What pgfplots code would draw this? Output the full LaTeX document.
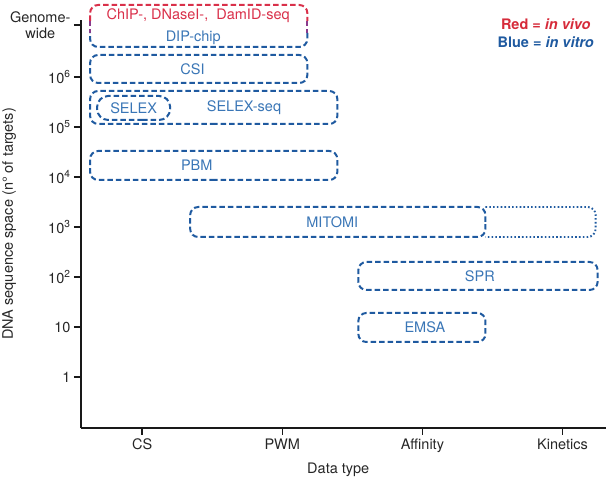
\documentclass[border=0pt]{standalone}
\usepackage{fontspec}
\setmainfont{TeX Gyre Heros}
\usepackage{pgfplots}
\pgfplotsset{compat=1.18}
\definecolor{boxblue}{HTML}{1F5AA0}
\definecolor{txtblue}{HTML}{3A76B6}
\definecolor{boxred}{HTML}{D9304A}
\definecolor{boxpurple}{HTML}{8A3A8C}
\definecolor{legred}{HTML}{D62B3A}
\newcommand\fs{\fontsize{14.5}{16.5}\selectfont}
\tikzset{
 dbox/.style={boxblue, line width=2pt, dash pattern=on 5.5pt off 3pt, rounded corners=8pt},
 lab/.style={txtblue, font=\fs},
}
\begin{document}
\begin{tikzpicture}
\useasboundingbox (-81pt,-58pt) rectangle (527pt,428pt);
\begin{axis}[
 at={(0pt,0pt)}, anchor=south west,
 scale only axis, width=525pt, height=408pt,
 xmin=-0.436, xmax=3.31, ymin=-1.02, ymax=7.14,
 clip=false, no markers,
 axis x line*=bottom, axis y line*=left,
 axis line style={line width=1.5pt, black!90},
 xtick={0,1,2,3}, xticklabels={CS,PWM,Affinity,Kinetics},
 ytick={0,1,2,3,4,5,6,7.04},
 yticklabels={1,10,10\textsuperscript{2},10\textsuperscript{3},10\textsuperscript{4},10\textsuperscript{5},10\textsuperscript{6},{Genome-\\wide}},
 yticklabel style={align=center},
 tick align=outside, major tick length=7pt,
 tick style={line width=1.5pt, black!90},
 tick label style={font=\fs, text=black!85},
 xlabel={Data type}, ylabel={DNA sequence space (n° of targets)},
 xlabel style={at={(axis description cs:0.49,-0.103)}, anchor=center, font=\fs, text=black!85},
 ylabel style={at={(axis description cs:-0.137,0.5)}, anchor=center, font=\fs, text=black!85},
]
% ChIP / DIP-chip box: red top, purple sides, blue bottom
\addplot[dbox, boxred] coordinates {(-0.371,7.12) (-0.371,7.44) (1.179,7.44) (1.179,7.12)};
\addplot[dbox, boxpurple, rounded corners=0pt] coordinates {(-0.371,7.12) (-0.371,6.88)};
\addplot[dbox, boxpurple, rounded corners=0pt] coordinates {(1.179,7.12) (1.179,6.88)};
\addplot[dbox] coordinates {(1.179,6.88) (1.179,6.6) (-0.371,6.6) (-0.371,6.88)};
% CSI
\addplot[dbox] coordinates {(0.4,5.88) (1.179,5.88) (1.179,6.44) (-0.371,6.44) (-0.371,5.88) (0.4,5.88)};
% SELEX-seq
\addplot[dbox] coordinates {(0.5,5.06) (1.393,5.06) (1.393,5.72) (-0.371,5.72) (-0.371,5.06) (0.5,5.06)};
% SELEX
\addplot[dbox, rounded corners=11pt] coordinates {(0,5.14) (0.2,5.14) (0.2,5.62) (-0.321,5.62) (-0.321,5.14) (0,5.14)};
% PBM
\addplot[dbox] coordinates {(0.5,3.94) (1.393,3.94) (1.393,4.52) (-0.371,4.52) (-0.371,3.94) (0.5,3.94)};
% MITOMI dashed
\addplot[dbox] coordinates {(2.45,3.1) (2.45,3.4) (0.343,3.4) (0.343,2.8) (2.45,2.8) (2.45,3.1)};
% MITOMI dotted extension
\addplot[boxblue, line width=1.9pt, dash pattern=on 1.6pt off 2.2pt, rounded corners=8pt] coordinates {(2.45,3.4) (3.236,3.4) (3.236,2.8) (2.45,2.8)};
% SPR
\addplot[dbox] coordinates {(2.4,1.74) (3.25,1.74) (3.25,2.3) (1.543,2.3) (1.543,1.74) (2.4,1.74)};
% EMSA
\addplot[dbox] coordinates {(2.0,0.7) (2.45,0.7) (2.45,1.28) (1.543,1.28) (1.543,0.7) (2.0,0.7)};

\node[boxred, font=\fs] at (axis cs:0.40,7.22) {ChIP-, DNaseI-,\ \ DamID-seq};
\node[lab] at (axis cs:0.365,6.78) {DIP-chip};
\node[lab] at (axis cs:0.36,6.15) {CSI};
\node[lab] at (axis cs:-0.06,5.38) {SELEX};
\node[lab] at (axis cs:0.727,5.38) {SELEX-seq};
\node[lab] at (axis cs:0.39,4.23) {PBM};
\node[lab] at (axis cs:1.357,3.1) {MITOMI};
\node[lab] at (axis cs:2.41,2.02) {SPR};
\node[lab] at (axis cs:2.018,0.99) {EMSA};
\node[legred, font=\fs\bfseries] at (axis cs:2.88,7.06) {Red = \textit{in vivo}};
\node[boxblue, font=\fs\bfseries] at (axis cs:2.88,6.70) {Blue = \textit{in vitro}};
\end{axis}
\end{tikzpicture}
\end{document}
